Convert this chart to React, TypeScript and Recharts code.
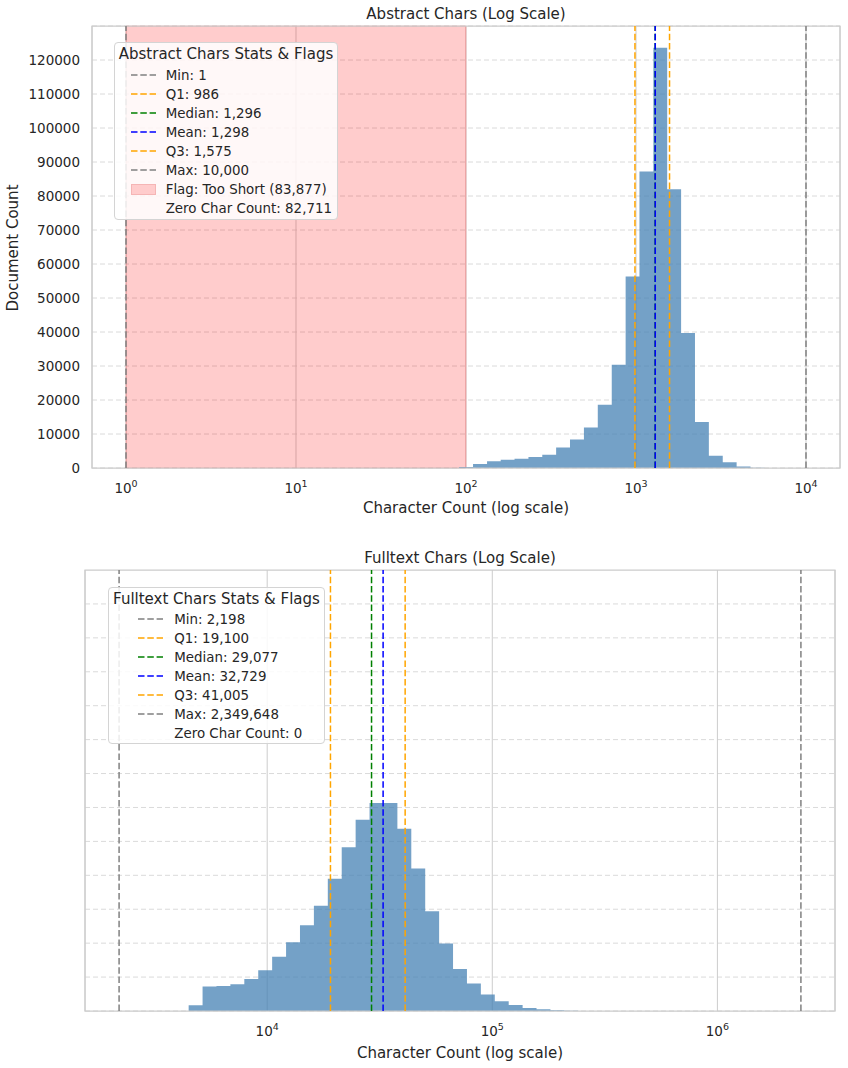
import React from "react";
import { Area, CartesianGrid, ComposedChart, ReferenceArea, ReferenceLine, XAxis, YAxis } from "recharts";

// log-spaced histogram bins: bin edges (last one closes the final bin) and document counts
const abstractBinEdges = [91, 110, 133, 160, 193, 233, 281, 339, 409, 494, 596, 720, 869, 1048, 1265, 1526, 1842, 2223, 2683, 3238, 3907, 4715, 5690, 6867, 8286, 10000];
const abstractCounts = [300, 1200, 2000, 2400, 2750, 3200, 3900, 6000, 8400, 11900, 18600, 30400, 56300, 87200, 123600, 82000, 39700, 13500, 3600, 1700, 450, 100, 30, 0, 0];

const fulltextBinEdges = [4478, 5163, 5953, 6863, 7913, 9124, 10520, 12130, 13985, 16124, 18590, 21433, 24712, 28492, 32850, 37875, 43668, 50347, 58048, 66927, 77163, 88966, 102580, 118270, 136360, 157210, 181260, 208990, 240950];
const fulltextCounts = [1700, 7200, 7400, 7900, 9400, 12000, 16000, 20300, 25300, 31000, 39000, 48300, 56400, 61300, 61300, 53700, 42000, 29400, 19900, 12400, 8100, 4900, 2900, 1800, 900, 550, 200, 80];

const statNames = ["Min", "Q1", "Median", "Mean", "Q3", "Max"];
const abstractStats = [1, 986, 1296, 1298, 1575, 10000];
const fulltextStats = [2198, 19100, 29077, 32729, 41005, 2349648];

const abstractTooShortRange = [1, 100];
const abstractTooShortCount = 83877;
const abstractZeroCount = 82711;
const fulltextZeroCount = 0;

const abstractXTicks = [1, 10, 100, 1000, 10000];
const fulltextXTicks = [10000, 100000, 1000000];
const countTicks = [0, 10000, 20000, 30000, 40000, 50000, 60000, 70000, 80000, 90000, 100000, 110000, 120000];

const abstractXDomain = [0.631, 15849];
const fulltextXDomain = [1551, 3330000];
const countDomain = [0, 130000];

const FONT = "DejaVu Sans";
const TEXT = "#262626";
const STAT_COLORS = ["#808080", "#ffa500", "#008000", "#0000ff", "#ffa500", "#808080"];
const BAR = "#4682b4";
const DASH = "6.5 2.8";

const fmt = (v: number) => v.toLocaleString("en-US");
const toData = (edges: number[], counts: number[]) =>
  edges.map((x, i) => ({ x, count: i < counts.length ? counts[i] : 0 }));

const PowerTick = (props: any) => {
  const { x, y, payload } = props;
  const exp = Math.round(Math.log10(payload.value));
  return (
    <text x={x} y={y + 25} textAnchor="middle" fontSize={13.5} fill={TEXT} fontFamily={FONT}>
      <tspan>10</tspan>
      <tspan dy={-6} fontSize={9.5}>{exp}</tspan>
    </text>
  );
};

const CountTick = (props: any) => {
  const { x, y, payload } = props;
  return (
    <text x={x} y={y} dy="0.36em" textAnchor="end" fontSize={13.5} fill={TEXT} fontFamily={FONT}>
      {payload.value}
    </text>
  );
};

type Row = { label: string; color?: string; kind: "line" | "patch" | "none" };

const StatsLegend = (p: {
  left: number; top: number; width: number; height: number; title: string;
  rows: Row[]; titleY: number; firstRow: number; lineX: number; textX: number;
}) => (
  <div style={{
    position: "absolute", left: p.left, top: p.top, width: p.width, height: p.height,
    boxSizing: "border-box", border: "1px solid #d4d4d4", borderRadius: 4,
    background: "rgba(255,255,255,0.85)",
  }}>
    <div style={{
      position: "absolute", left: 0, right: 0, top: p.titleY - 10.7, textAlign: "center",
      fontSize: 15, lineHeight: "20px", whiteSpace: "nowrap",
    }}>{p.title}</div>
    {p.rows.map((r, i) => {
      const cy = p.firstRow + i * 19 - 1;
      return (
        <React.Fragment key={i}>
          {r.kind === "line" && (
            <svg style={{ position: "absolute", left: p.lineX - 1, top: cy - 2 }} width={25} height={4}>
              <line x1={0} y1={2} x2={25} y2={2} stroke={r.color} strokeWidth={1.5} strokeDasharray={DASH} />
            </svg>
          )}
          {r.kind === "patch" && (
            <div style={{
              position: "absolute", left: p.lineX - 1, top: cy - 5.5, width: 25, height: 11,
              boxSizing: "border-box", background: "#ffcccc", border: "1px solid #f5b5b5",
            }} />
          )}
          <div style={{
            position: "absolute", left: p.textX - 1, top: cy - 9.3, lineHeight: "19px",
            fontSize: 13.4, whiteSpace: "nowrap",
          }}>{r.label}</div>
        </React.Fragment>
      );
    })}
  </div>
);

const statRows = (values: number[]): Row[] =>
  values.map((v, i) => ({ label: `${statNames[i]}: ${fmt(v)}`, color: STAT_COLORS[i], kind: "line" }));

export default function App() {
  const abstractData = toData(abstractBinEdges, abstractCounts);
  const fulltextData = toData(fulltextBinEdges, fulltextCounts);

  const abstractRows: Row[] = [
    ...statRows(abstractStats),
    { label: `Flag: Too Short (${fmt(abstractTooShortCount)})`, kind: "patch" },
    { label: `Zero Char Count: ${fmt(abstractZeroCount)}`, kind: "none" },
  ];
  const fulltextRows: Row[] = [
    ...statRows(fulltextStats),
    { label: `Zero Char Count: ${fmt(fulltextZeroCount)}`, kind: "none" },
  ];

  return (
    <div style={{
      position: "absolute", left: 0, top: 0, width: 848, height: 1068, background: "#fff",
      fontFamily: FONT, color: TEXT, overflow: "hidden",
    }}>
      <div style={{ position: "absolute", left: 0, top: 0 }}>
        <ComposedChart width={848} height={530} data={abstractData} margin={{ top: 26, right: 8, left: 32, bottom: 0 }}>
          <CartesianGrid vertical={false} stroke="#dadada" strokeDasharray="5 3" />
          <CartesianGrid horizontal={false} stroke="#cccccc" />
          <XAxis dataKey="x" type="number" scale="log" domain={abstractXDomain} allowDataOverflow
            ticks={abstractXTicks} interval={0} tick={(t: any) => <PowerTick {...t} />}
            tickLine={false} axisLine={false} tickSize={0} tickMargin={0} height={62} />
          <YAxis type="number" domain={countDomain} allowDataOverflow ticks={countTicks} interval={0}
            width={60} tickLine={false} axisLine={false} tickSize={0} tickMargin={12}
            tick={(t: any) => <CountTick {...t} />} />
          <ReferenceArea x1={abstractTooShortRange[0]} x2={abstractTooShortRange[1]} fill="#ff0000" fillOpacity={0.2}
            stroke="#ff0000" strokeOpacity={0.2} ifOverflow="visible" />
          <Area type="stepAfter" dataKey="count" fill={BAR} fillOpacity={0.75} stroke="none" isAnimationActive={false} />
          {abstractStats.map((v, i) => (
            <ReferenceLine key={i} x={v} stroke={STAT_COLORS[i]} strokeWidth={1.5} strokeDasharray={DASH} ifOverflow="visible" />
          ))}
          <ReferenceArea x1={abstractXDomain[0]} x2={abstractXDomain[1]} y1={countDomain[0]} y2={countDomain[1]}
            fill="none" stroke="#cccccc" strokeWidth={1.25} ifOverflow="visible" />
        </ComposedChart>
      </div>

      <div style={{ position: "absolute", left: 0, top: 544 }}>
        <ComposedChart width={848} height={524} data={fulltextData} margin={{ top: 26, right: 13, left: 84, bottom: 0 }}>
          <CartesianGrid vertical={false} horizontalValues={countTicks} stroke="#dadada" strokeDasharray="5 3" />
          <CartesianGrid horizontal={false} stroke="#cccccc" />
          <XAxis dataKey="x" type="number" scale="log" domain={fulltextXDomain} allowDataOverflow
            ticks={fulltextXTicks} interval={0} tick={(t: any) => <PowerTick {...t} />}
            tickLine={false} axisLine={false} tickSize={0} tickMargin={0} height={57} />
          <YAxis type="number" domain={countDomain} allowDataOverflow ticks={countTicks} interval={0}
            width={1} tick={() => <g />} tickLine={false} axisLine={false} />
          <Area type="stepAfter" dataKey="count" fill={BAR} fillOpacity={0.75} stroke="none" isAnimationActive={false} />
          {fulltextStats.map((v, i) => (
            <ReferenceLine key={i} x={v} stroke={STAT_COLORS[i]} strokeWidth={1.5} strokeDasharray={DASH} ifOverflow="visible" />
          ))}
          <ReferenceArea x1={fulltextXDomain[0]} x2={fulltextXDomain[1]} y1={countDomain[0]} y2={countDomain[1]}
            fill="none" stroke="#cccccc" strokeWidth={1.25} ifOverflow="visible" />
        </ComposedChart>
      </div>

      <div style={{ position: "absolute", left: 92, width: 748, top: 3.5, textAlign: "center", fontSize: 15, lineHeight: "20px" }}>
        Abstract Chars (Log Scale)
      </div>
      <div style={{ position: "absolute", left: 92, width: 748, top: 498, textAlign: "center", fontSize: 15, lineHeight: "20px" }}>
        Character Count (log scale)
      </div>
      <div style={{
        position: "absolute", left: 13 - 100, top: 247.5 - 10, width: 200, height: 20, textAlign: "center",
        fontSize: 15, lineHeight: "20px", transform: "rotate(-90deg)",
      }}>
        Document Count
      </div>

      <div style={{ position: "absolute", left: 85, width: 750, top: 548, textAlign: "center", fontSize: 15, lineHeight: "20px" }}>
        Fulltext Chars (Log Scale)
      </div>
      <div style={{ position: "absolute", left: 85, width: 750, top: 1042.5, textAlign: "center", fontSize: 15, lineHeight: "20px" }}>
        Character Count (log scale)
      </div>

      <StatsLegend left={114} top={42} width={224} height={178} title="Abstract Chars Stats & Flags"
        rows={abstractRows} titleY={12} firstRow={33} lineX={16.7} textX={51.7} />
      <StatsLegend left={108} top={587} width={217} height={157} title="Fulltext Chars Stats & Flags"
        rows={fulltextRows} titleY={11.3} firstRow={32} lineX={29.7} textX={66.3} />
    </div>
  );
}
